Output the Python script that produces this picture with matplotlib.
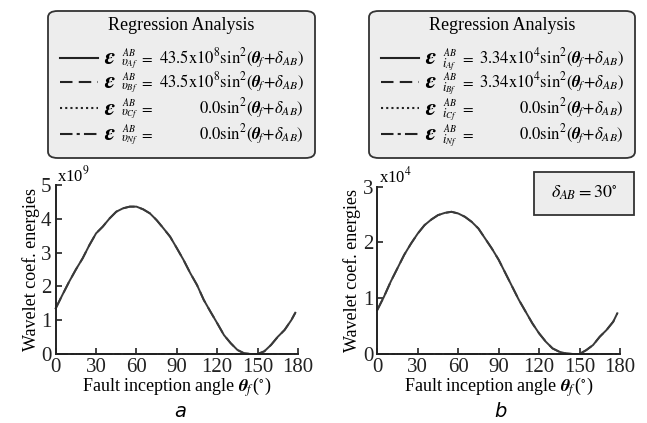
import matplotlib
matplotlib.use("Agg")
import matplotlib.pyplot as plt
from matplotlib.patches import FancyBboxPatch, Rectangle
from matplotlib.lines import Line2D

plt.rcParams['font.family'] = ['Liberation Serif', 'DejaVu Serif']
plt.rcParams['mathtext.fontset'] = 'stix'

# ---------------- data ----------------
theta = [0, 5, 10, 15, 20, 25, 30, 35, 40, 45, 50, 55, 60, 65, 70, 75, 80, 85, 90,
         95, 100, 105, 110, 115, 120, 125, 130, 135, 140, 145, 150, 155, 160, 165,
         170, 175, 178]
# panel a (x10^9)
va_A = [1.35, 1.75, 2.14, 2.5, 2.83, 3.22, 3.57, 3.77, 4.01, 4.21, 4.31, 4.36, 4.36,
        4.28, 4.16, 3.96, 3.72, 3.47, 3.13, 2.78, 2.39, 2.04, 1.6, 1.25, 0.91, 0.56,
        0.32, 0.12, 0.02, 0.0, 0.0, 0.08, 0.27, 0.51, 0.71, 1.0, 1.22]
va_B = list(va_A)
va_C = [0.0] * len(theta)
va_N = [0.0] * len(theta)
# panel b (x10^4)
ib_A = [0.79, 1.03, 1.30, 1.54, 1.78, 1.98, 2.16, 2.31, 2.41, 2.49, 2.53, 2.55, 2.52,
        2.46, 2.37, 2.25, 2.07, 1.89, 1.69, 1.45, 1.21, 0.97, 0.76, 0.55, 0.37, 0.22,
        0.10, 0.04, 0.01, 0.0, 0.0, 0.07, 0.16, 0.31, 0.43, 0.58, 0.73]
ib_B = list(ib_A)
ib_C = [0.0] * len(theta)
ib_N = [0.0] * len(theta)

xticks = [0, 30, 60, 90, 120, 150, 180]
yticks_a = [0, 1, 2, 3, 4, 5]
yticks_b = [0, 1, 2, 3]

W, H = 647, 423
fig = plt.figure(figsize=(W / 100, H / 100), dpi=100)

def fx(px):
    return px / W

def fy(py):
    return 1 - py / H

LC = '#3a3a3a'
styles = ['-', (0, (6, 3)), (0, (1, 1.5)), (0, (6, 2, 1.5, 2))]

def panel(rect, series, yticks, exp_txt, letter, letter_x):
    ax = fig.add_axes(rect)
    for s, ls in zip(series, styles):
        ax.plot(theta, s, color=LC, lw=1.4, ls=ls, clip_on=False)
    ax.set_xlim(0, 180)
    ax.set_ylim(0, yticks[-1])
    ax.set_xticks(xticks)
    ax.set_yticks(yticks)
    for sp in ['top', 'right']:
        ax.spines[sp].set_visible(False)
    for sp in ['left', 'bottom']:
        ax.spines[sp].set_linewidth(1.4)
        ax.spines[sp].set_color('#222222')
    ax.tick_params(direction='in', length=4, width=1.2, labelsize=15, pad=3,
                   colors='#222222')
    ax.set_ylabel('Wavelet coef. energies', fontsize=13, labelpad=1)
    ax.set_xlabel(r'Fault inception angle $\mathbfit{\theta}_{\!f}\,$($^{\circ}$)',
                  fontsize=13, labelpad=-1)
    ax.text(0.005, 1.0, exp_txt, transform=ax.transAxes, fontsize=12,
            ha='left', va='bottom')
    fig.text(fx(letter_x), fy(402), letter, fontsize=14,
             ha='center', va='top', style='italic', family='DejaVu Sans')
    return ax

ax_a = panel([fx(55.7), fy(354), fx(298 - 55.7), (354 - 185) / H],
             [va_A, va_B, va_C, va_N], yticks_a, r'x10$^{9}$', 'a', 180)
ax_b = panel([fx(377.3), fy(354), fx(620 - 377.3), (354 - 186.7) / H],
             [ib_A, ib_B, ib_C, ib_N], yticks_b, r'x10$^{4}$', 'b', 500)

def legend_box(x0, x1, sym, coefs):
    box = FancyBboxPatch((fx(x0), fy(158)), fx(x1 - x0), (158 - 11) / H,
                         boxstyle='round,pad=0,rounding_size=0.015',
                         transform=fig.transFigure, facecolor='#ededed',
                         edgecolor='#333333', lw=1.3)
    fig.add_artist(box)
    fig.text(fx((x0 + x1) / 2), fy(26), 'Regression Analysis', fontsize=13,
             ha='center', va='center')
    rows_y = [58, 82, 108, 134]
    names = ['Af', 'Bf', 'Cf', 'Nf']
    for ry, ls, nm, cf in zip(rows_y, styles, names, coefs):
        fig.add_artist(Line2D([fx(x0 + 12), fx(x0 + 50)], [fy(ry), fy(ry)],
                              transform=fig.transFigure, color='#222222',
                              lw=1.5, ls=ls))
        fig.text(fx(x0 + 56), fy(ry + 1), r'$\mathbfit{\varepsilon}$',
                 fontsize=17, ha='left', va='center')
        fig.text(fx(x0 + 74), fy(ry - 6.5), r'$AB$', fontsize=7,
                 ha='left', va='center')
        fig.text(fx(x0 + 73), fy(ry + 6.5), r'$%s_{%s}$' % (sym, nm), fontsize=9,
                 ha='left', va='center')
        fig.text(fx(x0 + 91), fy(ry), r'$=$', fontsize=11, ha='left', va='center')
        fig.text(fx(x1 - 11), fy(ry),
                 r'$%s\mathrm{sin}^{2}(\mathbfit{\theta}_{\!f}\,\!{+}\delta_{AB})$' % cf,
                 fontsize=12, ha='right', va='center')

legend_box(48, 315, r'\upsilon', [r'43.5\mathrm{x}10^{8}', r'43.5\mathrm{x}10^{8}',
                                  r'0.0', r'0.0'])
legend_box(369, 635, r'i', [r'3.34\mathrm{x}10^{4}', r'3.34\mathrm{x}10^{4}',
                            r'0.0', r'0.0'])

dbox = Rectangle((fx(534), fy(215)), fx(100), (215 - 172) / H,
                 transform=fig.transFigure, facecolor='#ededed',
                 edgecolor='#333333', lw=1.3)
fig.add_artist(dbox)
fig.text(fx(584), fy(193), r'$\delta_{AB}=30^{\circ}$', fontsize=13,
         ha='center', va='center')

fig.savefig('out.png', dpi=100, facecolor='white')
